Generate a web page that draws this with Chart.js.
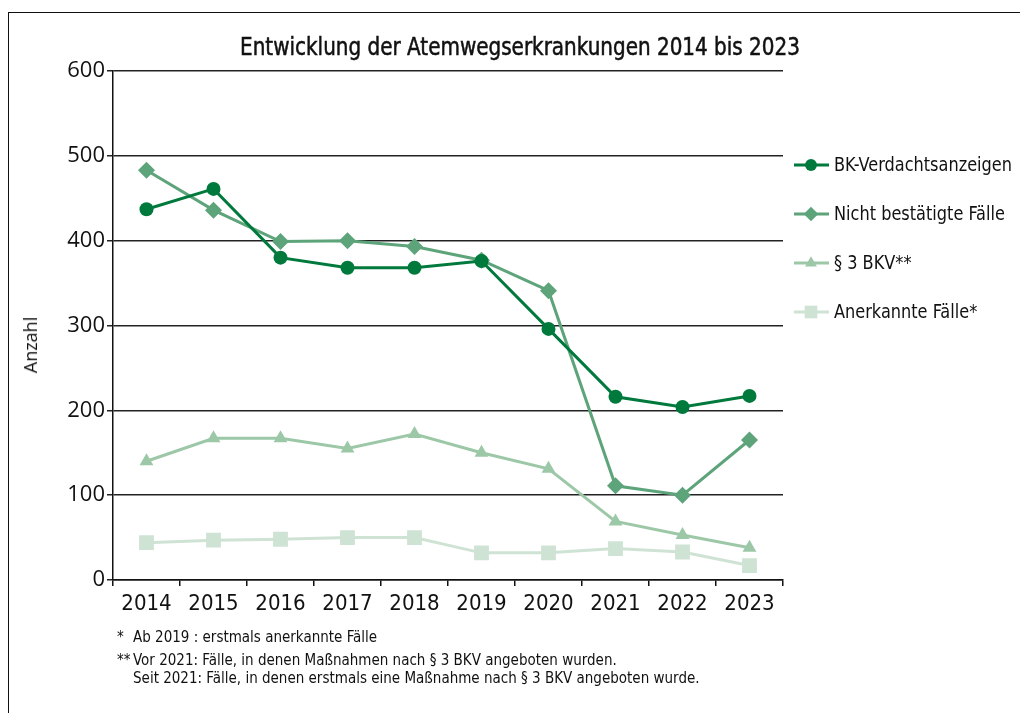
<!DOCTYPE html>
<html lang="de">
<head>
<meta charset="utf-8">
<script src="https://cdn.jsdelivr.net/npm/chart.js@4/dist/chart.umd.min.js"></script>
<style>
  html, body { margin: 0; padding: 0; background: #fff; }
  #wrap { position: relative; width: 1020px; height: 713px; overflow: hidden; }
  #frame {
    position: absolute; left: 8px; top: 12px; width: 1100px; height: 800px;
    border-top: 1.5px solid #111; border-left: 1.5px solid #111;
  }
  #chart { position: absolute; left: 0; top: 0; }
  #title {
    position: absolute; left: 0; width: 1040px; top: 33px; text-align: center;
    font-family: "DejaVu Sans Condensed", sans-serif;
    font-weight: normal; font-size: 24px; color: #111;
    -webkit-text-stroke: 0.5px #111;
    transform: scaleX(0.925); transform-origin: 520px 0;
  }
  #ytitle {
    position: absolute; left: 30px; top: 345px; width: 0; height: 0;
  }
  #ytitle span {
    position: absolute; transform: translate(-50%, -50%) rotate(-90deg);
    font-family: "Open Sans", sans-serif; font-size: 18px; color: #111; white-space: nowrap;
  }
  .note {
    position: absolute; font-family: "DejaVu Sans Condensed", sans-serif;
    font-size: 15px; color: #111; white-space: nowrap;
  }
</style>
</head>
<body>
<div id="wrap">
  <div id="frame"></div>
  <canvas id="chart" width="1020" height="713"></canvas>
  <div id="title">Entwicklung der Atemwegserkrankungen 2014 bis 2023</div>
  <div id="ytitle"><span>Anzahl</span></div>
  <div class="note" style="left:117px; top:628px;">*</div>
  <div class="note" style="left:133px; top:628px;">Ab 2019 : erstmals anerkannte Fälle</div>
  <div class="note" style="left:117px; top:651px;">**</div>
  <div class="note" style="left:133px; top:651px;">Vor 2021: Fälle, in denen Maßnahmen nach § 3 BKV angeboten wurden.</div>
  <div class="note" style="left:133px; top:669px;">Seit 2021: Fälle, in denen erstmals eine Maßnahme nach § 3 BKV angeboten wurde.</div>
</div>
<script>
// ============================
// Daten
// ============================
const years = ['2014', '2015', '2016', '2017', '2018', '2019', '2020', '2021', '2022', '2023'];
const bkVerdacht = [437, 461, 380, 368, 368, 376, 296, 216, 204, 217];
const nichtBestaetigt = [483, 436, 399, 400, 393, 377, 341, 111, 100, 165];
const bkv3 = [140, 167, 167, 155, 172, 150, 131, 69, 53, 38];
const anerkannt = [44, 47, 48, 50, 50, 32, 32, 37, 33, 17];
const yMin = 0, yMax = 600, yStep = 100;

const narrow = '"DejaVu Sans Condensed", sans-serif';

const series = [
  { label: 'BK-Verdachtsanzeigen', data: bkVerdacht, color: '#00793d', style: 'circle', r: 7 },
  { label: 'Nicht bestätigte Fälle', data: nichtBestaetigt, color: '#5ea47b', style: 'rectRot', r: 8.5 },
  { label: '§ 3 BKV**', data: bkv3, color: '#9cc8a8', style: 'triangle', r: 8 },
  { label: 'Anerkannte Fälle*', data: anerkannt, color: '#cfe3d5', style: 'rect', r: 10.5 }
];

// Legende rechts neben dem Diagramm
const sideLegend = {
  id: 'sideLegend',
  afterDraw(chart) {
    const ctx = chart.ctx;
    const rows = [165, 214, 263, 312];
    ctx.save();
    ctx.font = '20px ' + narrow;
    // Schrift etwas schmaler, wie im Original
    const squeeze = 178 / ctx.measureText(chart.data.datasets[0].label).width;
    chart.data.datasets.forEach((ds, i) => {
      const y = rows[i];
      ctx.strokeStyle = ds.borderColor;
      ctx.lineWidth = 3;
      ctx.beginPath();
      ctx.moveTo(794, y);
      ctx.lineTo(829, y);
      ctx.stroke();
      ctx.fillStyle = ds.borderColor;
      Chart.helpers.drawPoint(ctx, {
        pointStyle: ds.pointStyle,
        radius: ds.pointRadius * 0.85,
        rotation: 0,
        borderWidth: 0
      }, 811, y);
      ctx.fillStyle = '#111';
      ctx.textBaseline = 'middle';
      const w = ctx.measureText(ds.label).width * squeeze;
      ctx.fillText(ds.label, 834, y + 1, w);
    });
    ctx.restore();
  }
};

new Chart(document.getElementById('chart'), {
  type: 'line',
  data: {
    labels: years,
    datasets: series.map(s => ({
      label: s.label,
      data: s.data,
      borderColor: s.color,
      backgroundColor: s.color,
      borderWidth: 3,
      pointStyle: s.style,
      pointRadius: s.r,
      pointBorderWidth: 0,
      tension: 0
    }))
  },
  options: {
    responsive: false,
    animation: false,
    devicePixelRatio: 1,
    layout: { padding: { left: 0, top: 71, right: 237, bottom: 93 } },
    plugins: {
      legend: { display: false },
      title: { display: false },
      tooltip: { enabled: false }
    },
    scales: {
      x: {
        offset: true,
        grid: { offset: true, drawOnChartArea: false, drawTicks: true, tickLength: 6, color: '#111', lineWidth: 1.5 },
        border: { color: '#111', width: 1.5 },
        ticks: { color: '#111', font: { family: narrow, size: 22 }, padding: 5, maxRotation: 0, autoSkip: false },
        afterFit(scale) { scale.height = 40; }
      },
      y: {
        min: yMin,
        max: yMax,
        grid: { color: '#222', lineWidth: 1.5, tickLength: 6 },
        border: { color: '#111', width: 1.5 },
        ticks: { stepSize: yStep, color: '#111', font: { family: '"Open Sans", sans-serif', size: 22 }, padding: 2 },
        afterFit(scale) { scale.width = 113; }
      }
    }
  },
  plugins: [sideLegend]
});
</script>
</body>
</html>
